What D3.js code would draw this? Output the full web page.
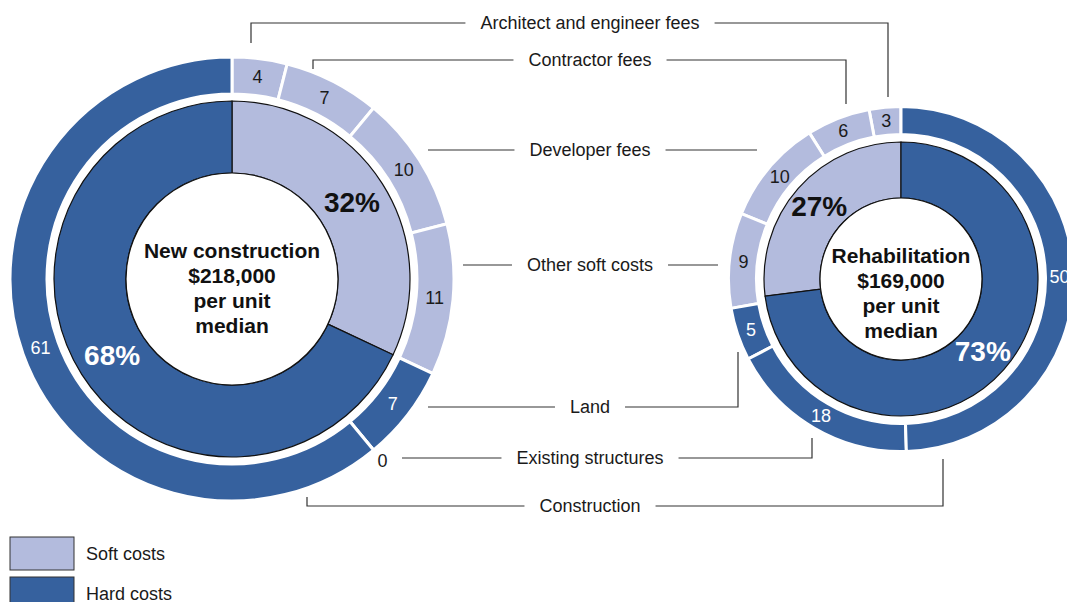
<!DOCTYPE html>
<html>
<head>
<meta charset="utf-8">
<script src="https://cdn.jsdelivr.net/npm/d3@7"></script>
<style>
  html, body { margin: 0; padding: 0; background: #fff; }
  svg { display: block; font-family: "Liberation Sans", Arial, sans-serif; }
</style>
</head>
<body>
<div id="chart"></div>
<script>
// cost components, in drawing order (soft first, then hard)
const categories = [
  "Architect and engineer fees",
  "Contractor fees",
  "Developer fees",
  "Other soft costs",
  "Land",
  "Existing structures",
  "Construction"
];
const costType = ["soft", "soft", "soft", "soft", "hard", "hard", "hard"];
const newConstruction = [4, 7, 10, 11, 7, 0, 61];
const rehabilitation = [3, 6, 10, 9, 5, 18, 50];

const typeLabels = ["Soft costs", "Hard costs"];
const newShares = [32, 68];
const rehabShares = [27, 73];

const newTitle = ["New construction", "$218,000", "per unit", "median"];
const rehabTitle = ["Rehabilitation", "$169,000", "per unit", "median"];

const width = 1067;
const height = 602;
const colors = { soft: "#b3bbdd", hard: "#36619e" };
const typeKeys = ["soft", "hard"];

const svg = d3
  .select("#chart")
  .append("svg")
  .attr("width", width)
  .attr("height", height);

// layout of the two rings (dir: 1 = clockwise, -1 = counter-clockwise)
const charts = [
  { values: newConstruction, shares: newShares, title: newTitle,
    cx: 232, cy: 279, rHole: 106, rIn: 178, rRingIn: 185, rRingOut: 222,
    dir: 1, titleY: -21 },
  { values: rehabilitation, shares: rehabShares, title: rehabTitle,
    cx: 901, cy: 279, rHole: 81, rIn: 137, rRingIn: 144.5, rRingOut: 172.5,
    dir: -1, titleY: -16 }
];

charts.forEach((c) => {
  const pie = d3
    .pie()
    .sort(null)
    .value((d) => d)
    .startAngle(c.dir > 0 ? 0 : 2 * Math.PI)
    .endAngle(c.dir > 0 ? 2 * Math.PI : 0);

  const g = svg.append("g").attr("transform", `translate(${c.cx},${c.cy})`);

  // outer ring: individual components
  const ringArc = d3.arc().innerRadius(c.rRingIn).outerRadius(c.rRingOut);
  const ring = pie(c.values);
  g.append("g")
    .selectAll("path")
    .data(ring)
    .enter()
    .append("path")
    .attr("d", ringArc)
    .attr("fill", (d, i) => colors[costType[i]])
    .attr("stroke", "#fff")
    .attr("stroke-width", 3);

  // inner donut: soft vs hard share
  const innerArc = d3.arc().innerRadius(c.rHole).outerRadius(c.rIn);
  const inner = pie(c.shares);
  g.append("g")
    .selectAll("path")
    .data(inner)
    .enter()
    .append("path")
    .attr("d", innerArc)
    .attr("fill", (d, i) => colors[typeKeys[i]])
    .attr("stroke", "#111")
    .attr("stroke-width", 1.2);

  g.append("circle")
    .attr("r", c.rHole)
    .attr("fill", "#fff")
    .attr("stroke", "#111")
    .attr("stroke-width", 1.2);

  // ring value labels
  g.append("g")
    .selectAll("text")
    .data(ring)
    .enter()
    .append("text")
    .attr("transform", (d) => {
      if (d.value > 0) return `translate(${ringArc.centroid(d)})`;
      const a = (d.startAngle + d.endAngle) / 2;
      const r = c.rRingOut + 14;
      return `translate(${r * Math.sin(a)},${-r * Math.cos(a)})`;
    })
    .attr("text-anchor", "middle")
    .attr("dominant-baseline", "central")
    .style("font-size", "18px")
    .style("fill", (d, i) =>
      costType[i] === "hard" && d.value > 0 ? "#fff" : "#1a1a1a"
    )
    .text((d) => d.data);

  // share labels
  g.append("g")
    .selectAll("text")
    .data(inner)
    .enter()
    .append("text")
    .attr("transform", (d) => `translate(${innerArc.centroid(d)})`)
    .attr("text-anchor", "middle")
    .attr("dominant-baseline", "central")
    .style("font-size", "28px")
    .style("font-weight", "bold")
    .style("fill", (d, i) => (i === 0 ? "#111" : "#fff"))
    .text((d) => d.data + "%");

  // centre title
  g.append("g")
    .selectAll("text")
    .data(c.title)
    .enter()
    .append("text")
    .attr("x", 0)
    .attr("y", (d, i) => c.titleY + i * 25)
    .attr("text-anchor", "middle")
    .style("font-size", "21px")
    .style("font-weight", "bold")
    .style("fill", "#111")
    .text((d) => d);
});

// leader lines between the two rings; [x] = horizontal end, [x, y] = vertical end
const callouts = [
  { y: 23, left: [251, 43], right: [888, 97] },
  { y: 60, left: [313, 69], right: [846, 104] },
  { y: 150, left: [428], right: [757] },
  { y: 265, left: [463], right: [718] },
  { y: 407, left: [428], right: [738, 352] },
  { y: 458, left: [402], right: [812, 438] },
  { y: 506, left: [307, 497], right: [943, 459] }
];
const labelX = 590;
const gap = 15;

const callG = svg.append("g");
callouts.forEach((co, i) => {
  const t = callG
    .append("text")
    .attr("x", labelX)
    .attr("y", co.y)
    .attr("text-anchor", "middle")
    .attr("dominant-baseline", "central")
    .style("font-size", "18px")
    .style("fill", "#1a1a1a")
    .text(categories[i]);
  const w = t.node().getComputedTextLength();
  const lx = labelX - w / 2 - gap;
  const rx = labelX + w / 2 + gap;

  const leftPath = co.left.length > 1
    ? `M${co.left[0]},${co.left[1]}V${co.y}H${lx}`
    : `M${co.left[0]},${co.y}H${lx}`;
  const rightPath = co.right.length > 1
    ? `M${rx},${co.y}H${co.right[0]}V${co.right[1]}`
    : `M${rx},${co.y}H${co.right[0]}`;

  callG.append("path")
    .attr("d", leftPath + rightPath)
    .attr("fill", "none")
    .attr("stroke", "#333")
    .attr("stroke-width", 1.2);
});

// legend
const legend = svg
  .append("g")
  .selectAll("g")
  .data(typeLabels)
  .enter()
  .append("g")
  .attr("transform", (d, i) => `translate(10,${537 + i * 40})`);

legend
  .append("rect")
  .attr("width", 64)
  .attr("height", 33)
  .attr("fill", (d, i) => colors[typeKeys[i]])
  .attr("stroke", "#333")
  .attr("stroke-width", 1);

legend
  .append("text")
  .attr("x", 76)
  .attr("y", 16.5)
  .attr("dominant-baseline", "central")
  .style("font-size", "18px")
  .style("fill", "#1a1a1a")
  .text((d) => d);
</script>
</body>
</html>
